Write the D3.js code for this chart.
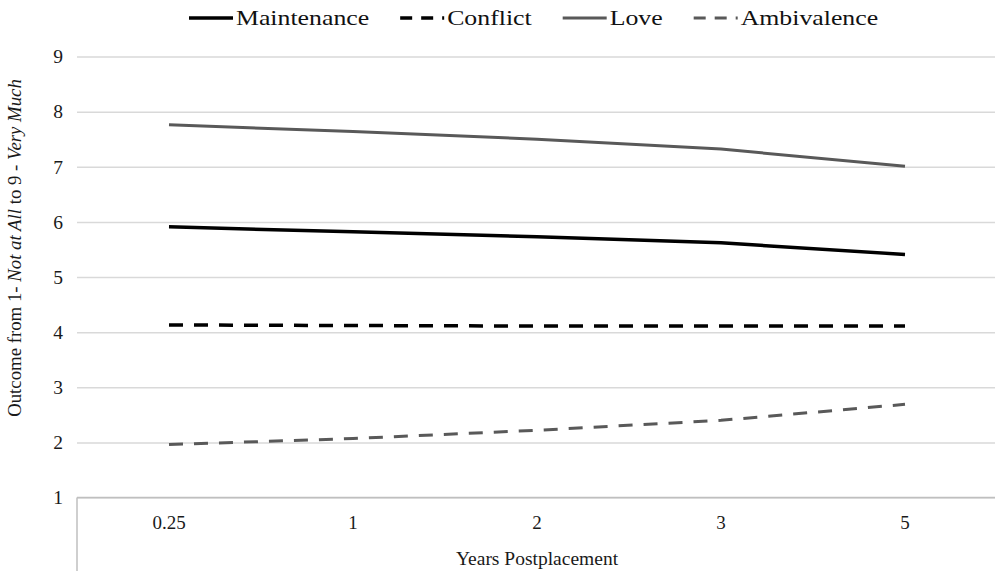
<!DOCTYPE html>
<html>
<head>
<meta charset="utf-8">
<script src="https://cdn.jsdelivr.net/npm/d3@7"></script>
<style>
  body { margin: 0; background: #fff; }
  svg { display: block; font-family: "Liberation Serif", "Times New Roman", serif; }
</style>
</head>
<body>
<svg width="995" height="571"></svg>
<script>
// values
let years = ["0.25", "1", "2", "3", "5"];
let maintenance = [5.91, 5.82, 5.73, 5.62, 5.41];
let conflict = [4.13, 4.12, 4.11, 4.11, 4.11];
let love = [7.76, 7.64, 7.50, 7.32, 7.01];
let ambivalence = [1.96, 2.07, 2.22, 2.40, 2.69];
let yTicks = [1, 2, 3, 4, 5, 6, 7, 8, 9];

let series = [
  { name: "Maintenance", values: maintenance, color: "#000", width: 3.5, dash: null },
  { name: "Conflict", values: conflict, color: "#000", width: 3.5, dash: "14,11" },
  { name: "Love", values: love, color: "#595959", width: 3, dash: null },
  { name: "Ambivalence", values: ambivalence, color: "#595959", width: 3, dash: "14,11" }
];

let svg = d3.select("svg");
let plotLeft = 77, plotRight = 997, plotTop = 56.5, plotBottom = 497.5;

let xScale = d3.scalePoint().domain(years).range([plotLeft, plotRight]).padding(0.5);
let yScale = d3.scaleLinear().domain([1, 9]).range([plotBottom, plotTop]);

// gridlines + y labels
let yAxis = d3.axisLeft(yScale).tickValues(yTicks).tickSize(-(plotRight - plotLeft)).tickPadding(14);
let yg = svg.append("g")
  .attr("transform", "translate(" + plotLeft + ",0)")
  .call(yAxis)
  .attr("font-family", "Liberation Serif")
  .attr("font-size", 19.5);
yg.select(".domain").remove();
yg.selectAll(".tick line").attr("stroke", "#d9d9d9").attr("stroke-width", 1.5);
yg.selectAll(".tick text").attr("fill", "#1a1a1a");

// x axis line and left border of category area
svg.append("line")
  .attr("x1", plotLeft).attr("x2", plotRight)
  .attr("y1", yScale(1)).attr("y2", yScale(1))
  .attr("stroke", "#bfbfbf").attr("stroke-width", 1.5);
svg.append("line")
  .attr("x1", plotLeft).attr("x2", plotLeft)
  .attr("y1", yScale(1)).attr("y2", 571)
  .attr("stroke", "#bfbfbf").attr("stroke-width", 1.5);

// x labels
svg.append("g").selectAll("text")
  .data(years)
  .enter()
  .append("text")
  .attr("x", d => xScale(d))
  .attr("y", 529)
  .attr("text-anchor", "middle")
  .attr("font-size", 19)
  .attr("fill", "#1a1a1a")
  .text(d => d);

svg.append("text")
  .attr("x", (plotLeft + plotRight) / 2)
  .attr("y", 565)
  .attr("text-anchor", "middle")
  .attr("font-size", 19.5)
  .attr("fill", "#1a1a1a")
  .text("Years Postplacement");

// y title
let yTitle = svg.append("text")
  .attr("transform", "translate(21,248) rotate(-90)")
  .attr("text-anchor", "middle")
  .attr("font-size", 18.8)
  .attr("fill", "#1a1a1a");
yTitle.append("tspan").text("Outcome from 1- ");
yTitle.append("tspan").attr("font-style", "italic").text("Not at All");
yTitle.append("tspan").text(" to 9 - ");
yTitle.append("tspan").attr("font-style", "italic").text("Very Much");

// lines
let line = d3.line()
  .x((d, i) => xScale(years[i]))
  .y(d => yScale(d));

svg.append("g").selectAll("path")
  .data(series)
  .enter()
  .append("path")
  .attr("d", d => line(d.values))
  .attr("fill", "none")
  .attr("stroke", d => d.color)
  .attr("stroke-width", d => d.width)
  .attr("stroke-dasharray", d => d.dash)
  .attr("stroke-linejoin", "round");

// legend
let lx = 189;
let ly = 18;
series.forEach(s => {
  svg.append("line")
    .attr("x1", lx).attr("x2", lx + 44)
    .attr("y1", ly).attr("y2", ly)
    .attr("stroke", s.color)
    .attr("stroke-width", s.width)
    .attr("stroke-dasharray", s.dash ? "12,9" : null);
  let t = svg.append("text")
    .attr("transform", "translate(" + (lx + 47) + "," + (ly + 7) + ") scale(1.2,1)")
    .attr("font-size", 21.5)
    .attr("fill", "#111")
    .text(s.name);
  lx += 47 + t.node().getComputedTextLength() * 1.2 + 31;
});
</script>
</body>
</html>
